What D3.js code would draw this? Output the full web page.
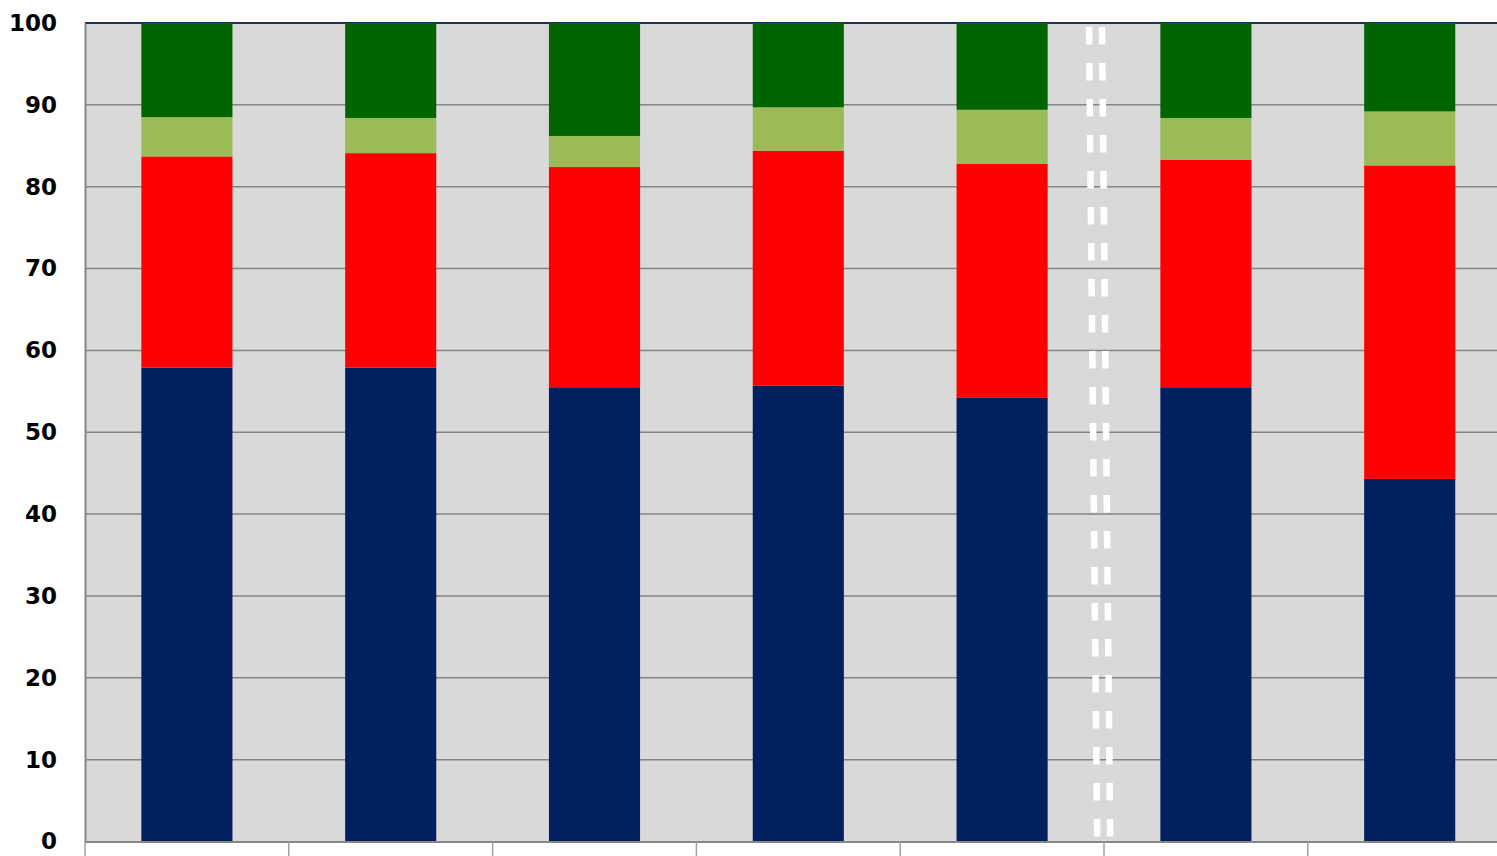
<!DOCTYPE html>
<html><head><meta charset="utf-8">
<script src="https://cdn.jsdelivr.net/npm/d3@7"></script>
<style>html,body{margin:0;padding:0;background:#fff;overflow:hidden}</style>
</head><body>
<svg id="chart" width="1497" height="856"></svg>
<script>
const categories = ["1","2","3","4","5","6","7"];
const seriesNames = ["s1","s2","s3","s4"];
const s1 = [57.9, 57.9, 55.5, 55.7, 54.2, 55.5, 44.3];
const s2 = [25.8, 26.2, 26.9, 28.7, 28.6, 27.8, 38.3];
const s3 = [4.8, 4.3, 3.8, 5.3, 6.6, 5.1, 6.6];
const s4 = [11.5, 11.6, 13.8, 10.3, 10.6, 11.6, 10.8];
const yTicks = [0,10,20,30,40,50,60,70,80,90,100];
const colors = ["#00205F", "#FF0000", "#9BBB59", "#006400"];
const separatorAfter = 5; // boundary between category 5 and 6

(function(){
const svg = d3.select("#chart");
const mLeft = 85, mTop = 23, mBottom = 841.5;
const step = 203.8;
const x = d3.scaleBand().domain(categories).range([mLeft, mLeft + step * categories.length]).padding(0);
const y = d3.scaleLinear().domain([0, 100]).range([mBottom, mTop]);

// background
svg.append("rect").attr("x", mLeft).attr("y", mTop).attr("width", x.range()[1] - mLeft).attr("height", mBottom - mTop).attr("fill", "#D9D9D9");

// gridlines
svg.append("g").selectAll("line").data(yTicks.slice(1)).join("line")
  .attr("x1", mLeft).attr("x2", x.range()[1])
  .attr("y1", d => y(d)).attr("y2", d => y(d))
  .attr("stroke", d => d === 100 ? "#1F2F5A" : "#858585").attr("stroke-width", d => d === 100 ? 2 : 1.5);

// stacked data
const table = categories.map((c, i) => ({cat: c, s1: s1[i], s2: s2[i], s3: s3[i], s4: s4[i]}));
const stacked = d3.stack().keys(seriesNames)(table);
const bw = x.bandwidth() * 0.447;

svg.append("g").selectAll("g").data(stacked).join("g")
  .attr("fill", (d, i) => colors[i])
  .selectAll("rect").data(d => d).join("rect")
  .attr("x", d => x(d.data.cat) + x.bandwidth() / 2 - bw / 2)
  .attr("width", bw)
  .attr("y", d => y(Math.min(d[1], 100)))
  .attr("height", d => y(d[0]) - y(Math.min(d[1], 100)));

// axes
const yAxis = d3.axisLeft(y).tickValues(yTicks).tickSize(0).tickPadding(28);
const gy = svg.append("g").attr("transform", `translate(${mLeft},0)`).call(yAxis);
gy.select(".domain").attr("stroke", "#878787").attr("stroke-width", 2);
gy.selectAll("text").attr("font-family", "DejaVu Sans, Verdana, sans-serif").attr("font-weight", "bold").attr("font-size", 23).attr("fill", "#000");

// bottom axis line and category boundary ticks
svg.append("line").attr("x1", mLeft).attr("x2", x.range()[1]).attr("y1", mBottom + 0.5).attr("y2", mBottom + 0.5).attr("stroke", "#878787").attr("stroke-width", 2);
const boundaries = categories.map(c => x(c));
svg.append("g").selectAll("line").data(boundaries).join("line")
  .attr("x1", d => d).attr("x2", d => d)
  .attr("y1", mBottom).attr("y2", 856)
  .attr("stroke", "#A0A0A0").attr("stroke-width", 1.5);

// white dashed double separator
const bx = x(categories[separatorAfter]);
[-14.5, -1.5].forEach(off => {
  svg.append("line")
    .attr("x1", bx + off - 0.5).attr("y1", mTop + 4)
    .attr("x2", bx + off + 7.7).attr("y2", mBottom - 1)
    .attr("stroke", "#FFFFFF").attr("stroke-width", 6.5)
    .attr("stroke-dasharray", "17.5,18.5");
});
})();
</script>
</body></html>
